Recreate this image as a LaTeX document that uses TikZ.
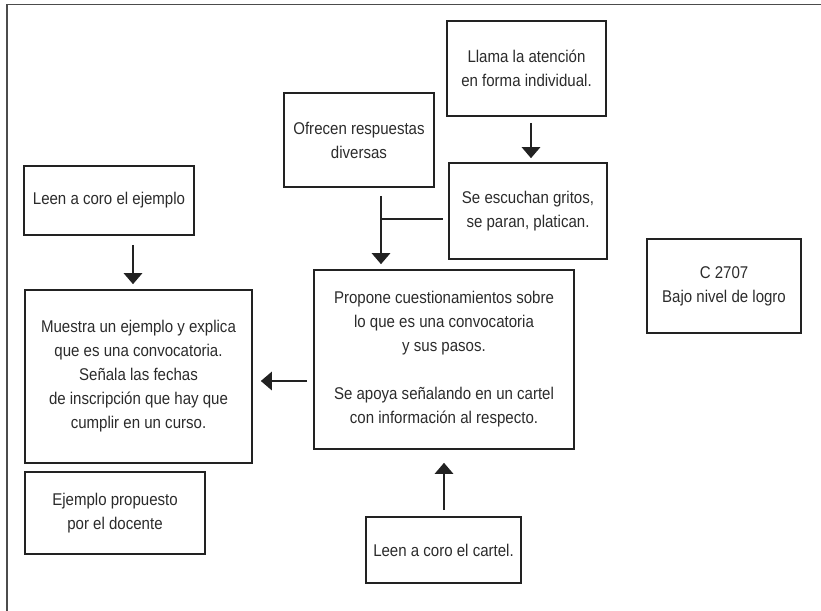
\documentclass[tikz,border=0pt]{standalone}
\usepackage{fontspec}
\setmainfont{Liberation Sans}[FakeStretch=0.885]
\usetikzlibrary{arrows.meta}
\definecolor{txt}{HTML}{2b2b2b}
\definecolor{ln}{HTML}{222222}
\tikzset{
  box/.style={draw=ln, line width=1.6pt, text=txt, align=center, inner sep=0pt,
    font=\fontsize{17}{24}\selectfont},
  arr/.style={draw=ln, line width=2.8pt, -{Triangle[width=18pt,length=11pt]}},
  branch/.style={draw=ln, line width=2.8pt},
  frame/.style={draw=black!70, line width=1.5pt}
}
\begin{document}
\begin{tikzpicture}[x=1pt,y=-1pt]
\useasboundingbox (0,0) rectangle (821,610);
\clip (0,0) rectangle (821,610);
\draw[frame] (7,4.5) rectangle (840,630);

\node[box, minimum width=159pt, minimum height=95pt] (llama) at (526.5,68.5)
  {Llama la atención\\en forma individual.};
\node[box, minimum width=158pt, minimum height=96pt] (grit) at (528,211)
  {Se escuchan gritos,\\se paran, platican.};
\node[box, minimum width=150pt, minimum height=94pt] (ofre) at (359,140)
  {Ofrecen respuestas\\diversas};
\node[box, minimum width=260pt, minimum height=179pt] (prop) at (444,359.5)
  {Propone cuestionamientos sobre\\lo que es una convocatoria\\y sus pasos.\\[24pt]Se apoya señalando en un cartel\\con información al respecto.};
\node[box, minimum width=170pt, minimum height=69pt] (leej) at (109,200.5)
  {Leen a coro el ejemplo};
\node[box, minimum width=227pt, minimum height=173pt] (mues) at (138.5,376.5)
  {Muestra un ejemplo y explica\\que es una convocatoria.\\Señala las fechas\\de inscripción que hay que\\cumplir en un curso.};
\node[box, minimum width=180pt, minimum height=82pt] (ejem) at (115,513)
  {Ejemplo propuesto\\por el docente};
\node[box, minimum width=155pt, minimum height=66pt] (leec) at (443.5,550)
  {Leen a coro el cartel.};
\node[box, minimum width=154pt, minimum height=94pt] (c27) at (724,286)
  {C 2707\\Bajo nivel de logro};

% connectors
\draw[arr] ([xshift=4.5pt,yshift=-6pt]llama.south) -- ([xshift=4.5pt,yshift=4pt]llama.south |- grit.north);
\draw[arr] ([xshift=22pt,yshift=-8pt]ofre.south) -- ([xshift=22pt,yshift=5pt]ofre.south |- prop.north);
\coordinate (j) at ([xshift=22pt,yshift=-8pt]ofre.south |- grit.west);
\draw[branch] (j) -- ([xshift=-5pt]grit.west |- j);
\draw[arr] ([xshift=24pt,yshift=-9pt]leej.south) -- ([xshift=24pt,yshift=5pt]leej.south |- mues.north);
\draw[arr] ([xshift=-6pt,yshift=-21.5pt]prop.west) -- ([xshift=8pt,yshift=-21.5pt]prop.west -| mues.east);
\draw[arr] ([xshift=0.5pt,yshift=6pt]leec.north) -- ([xshift=0.5pt,yshift=-13pt]leec.north |- prop.south);
\end{tikzpicture}
\end{document}
